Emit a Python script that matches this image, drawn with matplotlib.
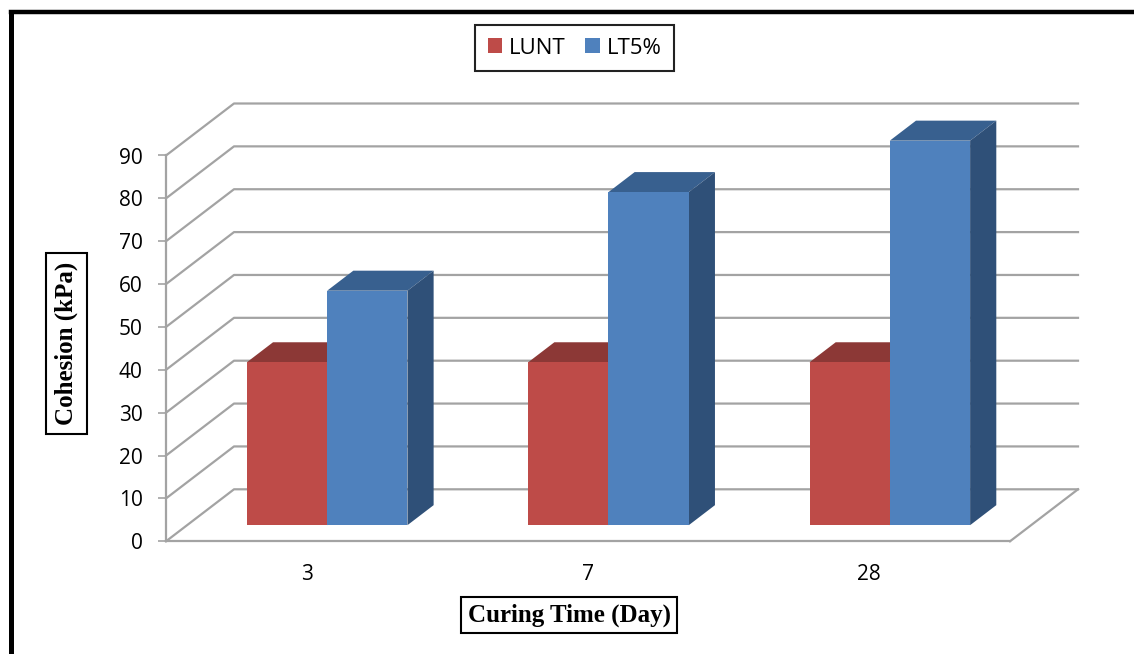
import matplotlib.pyplot as plt
import numpy as np
from matplotlib.lines import Line2D

plt.rcParams["font.family"] = ["Open Sans", "DejaVu Sans"]

CATEGORIES = ["3", "7", "28"]
LUNT = [38, 38, 38]
LT5 = [54.7, 77.7, 89.7]
Y_TICKS = list(range(0, 100, 10))

W, H = 1134, 654
LEFT, RIGHT, BOTTOM, TOP = 166, 1010, 541.3, 155.5  # front plane, in pixels

PX_X = (RIGHT - LEFT) / 3
PX_Y = (BOTTOM - TOP) / 90
WALL_X = 68 / PX_X
WALL_Y = 52 / PX_Y
GAP = 0.31  # floor between front edge and bars, fraction of depth
BAR_DEPTH = 0.385
BAR_W = 80.3 / PX_X

GREY = "#a3a3a3"
RED = {"front": "#be4b48", "top": "#8c3836", "side": "#7a302e"}
BLUE = {"front": "#4f81bd", "top": "#38608f", "side": "#2f5078"}


def draw_bars(ax, xs, values, colors, label):
    shift_x = GAP * WALL_X - 0.6 / PX_X
    shift_y = GAP * WALL_Y
    dx = BAR_DEPTH * WALL_X
    dy = BAR_DEPTH * WALL_Y
    bars = ax.bar(
        xs + shift_x + BAR_W / 2,
        values,
        BAR_W,
        bottom=shift_y,
        color=colors["front"],
        label=label,
        clip_on=False,
        zorder=3,
    )
    for x, v in zip(xs, values):
        x0 = x + shift_x
        x1 = x0 + BAR_W
        y0 = shift_y
        y1 = shift_y + v
        ax.fill([x0, x1, x1 + dx, x0 + dx], [y1, y1, y1 + dy, y1 + dy], color=colors["top"], lw=0, clip_on=False, zorder=2)
        ax.fill([x1, x1 + dx, x1 + dx, x1], [y0, y0 + dy, y1 + dy, y1], color=colors["side"], lw=0, clip_on=False, zorder=2)
    return bars


def main():
    fig = plt.figure(figsize=(W / 100, H / 100), dpi=100)
    fig.patch.set_facecolor("white")
    ax = fig.add_axes([LEFT / W, 1 - BOTTOM / H, (RIGHT - LEFT) / W, (BOTTOM - TOP) / H])
    ax.set_xlim(-0.5, 2.5)
    ax.set_ylim(0, 90)
    ax.patch.set_visible(False)

    x_right = 2.5
    x_left = -0.5
    for v in Y_TICKS:
        ax.plot(
            [x_left, x_left + WALL_X, x_right + WALL_X],
            [v, v + WALL_Y, v + WALL_Y],
            color=GREY,
            lw=1.6,
            clip_on=False,
            zorder=1,
        )
    ax.plot([x_right, x_right + WALL_X], [0, WALL_Y], color=GREY, lw=1.6, clip_on=False, zorder=1)

    xs = np.arange(len(CATEGORIES))
    red = draw_bars(ax, xs - BAR_W, LUNT, RED, "LUNT")
    blue = draw_bars(ax, xs, LT5, BLUE, "LT5%")
    for b in blue:
        b.set_zorder(4)

    ax.spines[["top", "right"]].set_visible(False)
    ax.spines["left"].set_color(GREY)
    ax.spines["bottom"].set_color(GREY)
    ax.spines["left"].set_linewidth(1.6)
    ax.spines["bottom"].set_linewidth(1.6)

    ax.set_yticks(Y_TICKS)
    ax.set_xticks(xs)
    ax.set_xticklabels(CATEGORIES)
    ax.tick_params(axis="y", length=5.8, width=1.2, color=GREY, pad=11, labelsize=15)
    ax.tick_params(axis="x", length=0, pad=16.5, labelsize=15)

    box_x = dict(boxstyle="square,pad=0.27", facecolor="white", edgecolor="black", linewidth=1.5)
    box_y = dict(boxstyle="square,pad=0.36", facecolor="white", edgecolor="black", linewidth=1.5)
    ax.set_xlabel("Curing Time (Day)", fontsize=18, fontweight="bold", family="Liberation Serif", bbox=box_x)
    ax.xaxis.set_label_coords((569 - LEFT) / (RIGHT - LEFT), (BOTTOM - 615) / (BOTTOM - TOP))
    ax.xaxis.label.set_va("center")
    ax.set_ylabel("Cohesion (kPa)", fontsize=18, fontweight="bold", family="Liberation Serif", bbox=box_y)
    ax.yaxis.set_label_coords((66.5 - LEFT) / (RIGHT - LEFT), (BOTTOM - 343.5) / (BOTTOM - TOP))
    ax.yaxis.label.set_va("center")

    fig.legend(
        handles=[red, blue],
        loc="center",
        bbox_to_anchor=(574.5 / W, 1 - 48 / H),
        ncol=2,
        fontsize=16,
        fancybox=False,
        edgecolor="#222222",
        framealpha=1,
        handlelength=0.65,
        handleheight=0.65,
        handletextpad=0.3,
        columnspacing=0.9,
        borderpad=0.55,
    ).get_frame().set_linewidth(1.5)

    # outer frame of the picture
    fig.add_artist(Line2D([10.5 / W, 10.5 / W], [0, 1 - 12 / H], color="black", lw=3.6, solid_capstyle="projecting"))
    fig.add_artist(Line2D([10.5 / W, 1], [1 - 12 / H, 1 - 12 / H], color="black", lw=3.2))

    fig.savefig("out.png", dpi=100, facecolor="white")
    plt.close(fig)


if __name__ == "__main__":
    main()
